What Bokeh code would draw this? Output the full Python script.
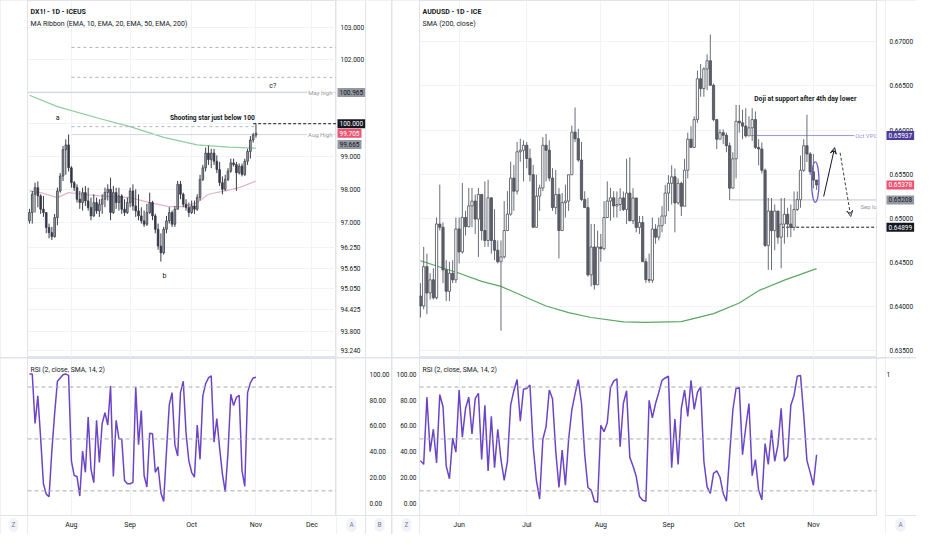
from bokeh.plotting import figure
from bokeh.models import (Range1d, LinearAxis, LogScale, FixedTicker, Grid, Label,
                          Span, Arrow, VeeHead, ColumnDataSource)
from bokeh.layouts import row, column
from bokeh.embed import file_html
from bokeh.resources import INLINE
from bokeh.core.properties import value

FONT = "Roboto"
TXT = "#131722"
SEP = "#e0e3eb"

# ---------------- DX1! daily (Jul - Nov) ----------------
dx_first_open = 97.05
dx_high = [97.41, 97.95, 98.20, 98.24, 97.85, 97.80, 97.26, 96.97, 96.87, 97.26,
           98.05, 98.49, 99.32, 99.52, 99.67, 98.70, 98.25, 98.15, 97.95, 98.05,
           98.10, 98.05, 97.75, 97.85, 97.75, 97.70, 97.85, 98.05, 98.15, 98.35,
           98.10, 98.05, 98.05, 97.85, 97.70, 97.75, 98.05, 98.15, 98.00, 97.85,
           97.46, 97.36, 97.56, 97.90, 97.65, 97.26, 96.97, 96.68, 96.87, 97.20,
           97.46, 97.36, 97.50, 98.25, 98.25, 97.90, 97.70, 97.60, 97.66, 97.66,
           97.85, 98.44, 98.74, 99.27, 99.32, 99.23, 99.23, 99.03, 98.83, 98.39,
           98.44, 98.64, 98.93, 98.93, 98.83, 98.78, 98.78, 98.93, 99.23, 99.62,
           99.72, 100.00]
dx_low = [96.97, 96.97, 97.30, 97.46, 97.26, 97.17, 96.68, 96.53, 96.48, 96.55,
          96.92, 97.90, 98.25, 98.44, 98.54, 98.05, 97.95, 97.60, 97.41, 97.36,
          97.50, 97.36, 97.07, 97.17, 97.26, 97.17, 97.26, 97.46, 97.66, 97.07,
          97.26, 97.41, 97.36, 97.26, 97.20, 97.26, 97.46, 97.36, 97.17, 97.07,
          96.97, 96.87, 96.90, 97.26, 97.07, 96.68, 96.19, 95.84, 96.05, 96.68,
          96.97, 96.87, 96.87, 97.40, 97.70, 97.46, 97.36, 97.17, 97.26, 97.26,
          97.35, 97.66, 98.25, 98.54, 98.74, 98.64, 98.74, 98.49, 98.10, 97.85,
          97.95, 98.25, 98.50, 98.69, 97.95, 98.45, 98.39, 98.40, 98.74, 98.93,
          99.42, 99.57]
dx_close = [97.30, 97.85, 98.05, 97.80, 97.40, 97.30, 96.85, 96.70, 96.58, 97.15,
            97.95, 98.40, 99.20, 99.35, 98.65, 98.20, 98.05, 97.70, 97.60, 97.90,
            97.65, 97.45, 97.20, 97.60, 97.35, 97.55, 97.70, 97.90, 98.00, 97.30,
            97.90, 97.60, 97.80, 97.40, 97.30, 97.60, 97.95, 97.50, 97.35, 97.20,
            97.05, 96.95, 97.30, 97.60, 97.20, 96.80, 96.30, 96.10, 96.80, 97.05,
            97.30, 96.95, 97.40, 98.15, 97.85, 97.55, 97.45, 97.30, 97.50, 97.40,
            97.75, 98.30, 98.65, 99.10, 98.90, 99.10, 98.85, 98.60, 98.20, 98.00,
            98.30, 98.55, 98.80, 98.75, 98.50, 98.70, 98.45, 98.85, 99.15, 99.50,
            99.65, 99.705]
dx_ema200_x = [0, 10, 25, 36, 48, 60, 71, 81]
dx_ema200 = [100.88, 100.53, 100.16, 99.91, 99.58, 99.35, 99.28, 99.25]
dx_ema50_x = [0, 4, 10, 14, 19, 25, 36, 43, 50, 55, 60, 64, 70, 75, 81]
dx_ema50 = [97.95, 97.90, 97.75, 97.90, 97.85, 97.80, 97.75, 97.60, 97.48, 97.48,
            97.60, 97.85, 97.95, 98.05, 98.25]
dx_rsi = [100, 100, 61.9, 83.2, 50.6, 15.5, 7.5, 5.5, 40.6, 69.4,
          94.5, 97.0, 99.5, 100, 99.0, 33.1, 21.8, 21.1, 6.0, 40.6,
          24.3, 66.9, 26.8, 16.3, 64.4, 31.8, 61.9, 70.2, 60.7, 90.7,
          21.1, 64.4, 50.1, 49.9, 18.0, 15.5, 15.5, 16.5, 90.0, 45.6,
          71.9, 21.8, 13.0, 54.4, 54.1, 24.3, 28.6, 8.5, 1.8, 40.6,
          76.2, 85.7, 45.6, 36.8, 85.7, 94.5, 54.4, 33.1, 24.3, 20.6,
          60.7, 34.3, 83.2, 92.7, 97.0, 98.7, 47.6, 65.7, 43.1, 23.1,
          9.3, 39.3, 84.5, 75.7, 82.0, 83.7, 25.6, 13.5, 85.7, 93.2,
          97.0, 97.5]
dx_month_idx = [15, 36, 58, 81, 101]
dx_month_lbl = ["Aug", "Sep", "Oct", "Nov", "Dec"]
dx_price_ticks = [103.0, 102.0, 101.0, 100.0, 99.0, 98.0, 97.0, 96.25, 95.65, 95.05,
                  94.425, 93.8, 93.24]
dx_levels_dashed = [102.38, 101.44]
dx_a_level = 99.91
dx_may_high = 100.965
dx_aug_high = 99.665
dx_round = 100.0

# ---------------- AUDUSD daily (May - Nov) ----------------
aud_first_open = 0.6412
aud_high = [.64266, .64675, .64600, .64377, .64433, .65009, .65381, .64954, .64526, .64508,
            .64526, .65009, .65009, .65400, .65084, .65344, .65344, .65270, .65344, .65270,
            .65418, .65437, .65121, .65102, .64749, .64749, .65195, .65307, .65641, .65604,
            .65864, .65901, .65883, .65864, .65790, .65604, .65493, .65381, .65920, .65957,
            .65883, .65567, .65548, .65344, .65288, .65381, .65493, .66050, .66255, .66013,
            .65864, .65307, .65232, .64935, .64935, .64861, .64823, .65195, .65418, .65344,
            .65307, .65304, .65341, .65304, .65674, .65692, .65341, .65082, .65026, .65026,
            .64545, .64601, .65008, .64934, .65008, .65137, .65378, .65489, .65600, .65563,
            .65452, .65415, .65674, .65970, .66044, .66155, .66673, .66747, .66710, .66858,
            .67080, .66525, .66118, .66007, .66007, .65970, .65859, .65748, .66284, .66284,
            .66229, .66247, .66155, .66247, .66210, .65896, .65859, .65563, .65230, .65230,
            .65156, .65082, .65230, .65230, .65119, .65156, .65304, .65304, .65711, .65896,
            .66173, .65748, .65729, .65396]
aud_low = [.63876, .63969, .63913, .64080, .64080, .64080, .64861, .64266, .64062, .64062,
           .64266, .64266, .64489, .64600, .64805, .64898, .64898, .64823, .64563, .64749,
           .64675, .64675, .64600, .64526, .64489, .63727, .64545, .64861, .65028, .65084,
           .65270, .65641, .65418, .65567, .65418, .64898, .64898, .65084, .65307, .65418,
           .65418, .65084, .65047, .64545, .64972, .65009, .65084, .65493, .65864, .65641,
           .65195, .65121, .64340, .64229, .64192, .64638, .64508, .64638, .65084, .64972,
           .65009, .65008, .65082, .65082, .64934, .64971, .64934, .64841, .64823, .64508,
           .64268, .64268, .64268, .64712, .64749, .64841, .64934, .65082, .65156, .64841,
           .65156, .65026, .65137, .65452, .65803, .65803, .66081, .66377, .66377, .66451,
           .66506, .66099, .65785, .65896, .65840, .65748, .65208, .65341, .65452, .65970,
           .65896, .65914, .65933, .65877, .65785, .65600, .65507, .64675, .64416, .64416,
           .64638, .64712, .64434, .64712, .64786, .64786, .64860, .65082, .65119, .65526,
           .65637, .65489, .65341, .65322]
aud_close = [.64006, .64452, .64154, .64303, .64099, .64935, .64898, .64415, .64173, .64377,
             .64303, .64879, .64619, .65009, .64905, .65140, .65195, .64991, .65270, .64861,
             .64749, .65232, .64749, .64638, .64508, .64563, .64861, .65047, .65455, .65307,
             .65753, .65771, .65827, .65678, .65493, .64898, .65251, .65344, .65827, .65771,
             .65455, .65121, .65270, .64861, .65177, .65195, .65493, .65976, .65901, .65660,
             .65214, .65121, .64359, .64675, .64247, .64675, .64656, .65009, .65195, .65232,
             .65140, .65156, .65230, .65100, .65285, .64971, .65230, .64897, .64952, .64508,
             .64305, .64298, .64878, .64786, .64915, .65026, .65285, .65396, .65470, .65174,
             .65396, .65137, .65544, .65896, .65803, .66118, .66580, .66469, .66691, .66784,
             .66506, .66118, .65896, .65970, .65940, .65822, .65341, .65674, .66099, .66081,
             .66044, .65933, .66025, .66118, .65803, .65785, .65544, .64693, .65082, .64860,
             .65082, .64786, .64934, .65045, .64934, .64897, .65100, .65211, .65544, .65822,
             .65729, .65526, .65433, .65378]
aud_sma_x = [0, 12, 19, 25, 32, 39, 46, 53, 63, 70, 81, 91, 99, 105, 113, 123]
aud_sma = [.64519, .64377, .64285, .64229, .64117, .64006, .63931, .63876, .63827, .63820,
           .63830, .63920, .64040, .64180, .64300, .64430]
aud_rsi = [33.3, 30.4, 82.2, 40.2, 57.5, 31.6, 84.2, 74.8, 29.1, 19.3,
           50.6, 39.8, 87.7, 51.4, 73.6, 82.2, 53.8, 81.0, 85.2, 34.1,
           76.0, 25.4, 67.4, 27.9, 57.5, 34.1, 18.0, 32.8, 76.0, 87.2,
           95.8, 63.7, 88.4, 88.9, 91.6, 44.0, 18.0, 3.7, 49.6, 59.5,
           87.7, 81.0, 40.7, 12.6, 41.5, 14.3, 49.6, 72.3, 84.7, 95.8,
           77.3, 37.8, 12.6, 10.6, 2.0, 1.2, 60.5, 55.6, 62.5, 89.6,
           94.6, 96.3, 44.0, 77.3, 87.2, 35.8, 29.1, 21.0, 5.7, 2.7,
           2.0, 79.8, 66.2, 77.3, 85.9, 95.1, 97.0, 98.3, 27.9, 65.4,
           30.4, 73.6, 87.7, 67.4, 95.1, 72.8, 85.9, 90.1, 32.8, 13.1,
           8.1, 23.5, 25.4, 20.5, 8.1, 2.0, 37.8, 72.3, 88.9, 89.6,
           37.8, 58.8, 77.3, 21.7, 34.1, 10.6, 3.2, 46.4, 30.4, 57.0,
           32.8, 45.2, 73.6, 32.8, 36.5, 76.0, 83.5, 98.3, 99.0, 68.6,
           33.3, 24.2, 14.3, 37.8]
aud_month_idx = [12, 33, 56, 77, 99, 122]
aud_month_lbl = ["Jun", "Jul", "Aug", "Sep", "Oct", "Nov"]
aud_price_ticks = [0.670, 0.665, 0.660, 0.655, 0.650, 0.645, 0.640, 0.635]
aud_oct_vpoc = 0.65937
aud_sep_low = 0.65208
aud_support = 0.64899
aud_last = 0.65378

rsi_ticks = [100, 80, 60, 40, 20, 0]
rsi_tick_lbl = ["100.00", "80.00", "60.00", "40.00", "20.00", "0.00"]
rsi_bands = [90, 50, 10]

# ---------------- layout sizes (pixels) ----------------
MH, RH, AXH = 357, 176, 19          # main pane, rsi pane (+axis row) heights
LZ, LFW, LP = 27, 309, 55           # left panel: gutter, frame, price column
RZ, RFW, RP = 27, 466, 31           # right panel: gutter, frame, price column
RFW_RSI = 457                       # right rsi frame is slightly narrower

dx_xr = Range1d(-0.7, 109.8)
aud_xr = Range1d(-0.3, 141.6)
rsi_yr = Range1d(-9, 112)
side_rsi_yr = Range1d(-9 - 121 * AXH / (RH - AXH), 112)


def fig(w, h, xr, yr, bottom=0, right=0, outline=SEP):
    return figure(width=w, height=h, x_range=xr, y_range=yr, x_axis_type=None,
                  y_axis_type=None, output_backend="svg", toolbar_location=None,
                  min_border_left=0, min_border_right=right, min_border_top=0,
                  min_border_bottom=bottom, background_fill_color="white",
                  border_fill_color="white", outline_line_color=outline)


def grids(p, xticks, yticks=None):
    p.add_layout(Grid(dimension=0, ticker=FixedTicker(ticks=xticks), grid_line_color="#f0f3fa"))
    if yticks is not None:
        p.add_layout(Grid(dimension=1, ticker=FixedTicker(ticks=yticks), grid_line_color="#f0f3fa"))


def month_axis(p, idx, lbl):
    ax = LinearAxis(ticker=FixedTicker(ticks=idx), major_label_overrides=dict(zip(idx, lbl)))
    ax.axis_line_color = SEP
    ax.major_tick_line_color = None
    ax.minor_tick_line_color = None
    ax.major_tick_out = 0
    ax.major_tick_in = 0
    ax.major_label_standoff = 5
    ax.major_label_text_font = FONT
    ax.major_label_text_font_size = "7px"
    ax.major_label_text_color = TXT
    p.add_layout(ax, "below")


def candles(p, first_open, highs, lows, closes, up_fill, dn_fill, line, wick, width):
    opens = [first_open] + closes[:-1]
    xs = list(range(len(closes)))
    tops = [max(o, c) for o, c in zip(opens, closes)]
    bots = [min(o, c) for o, c in zip(opens, closes)]
    hi = [max(h, t) for h, t in zip(highs, tops)]
    lo = [min(l, b) for l, b in zip(lows, bots)]
    fills = [up_fill if c >= o else dn_fill for o, c in zip(opens, closes)]
    src = ColumnDataSource(dict(x=xs, hi=hi, lo=lo, top=tops, bot=bots, fill=fills))
    p.segment(x0="x", y0="hi", x1="x", y1="lo", source=src, line_color=wick, line_width=1)
    p.vbar(x="x", width=width, top="top", bottom="bot", fill_color="fill",
           line_color=line, line_width=0.8, source=src)


def scale_labels(p, x, ys, labels, align="left"):
    p.text(x=[x] * len(ys), y=ys, text=labels, text_font=value(FONT), text_font_size="6.5px",
           text_color=TXT, text_align=align, text_baseline="middle")


def tag(p, y, text, bg, fg, y_offset=0):
    p.add_layout(Label(x=1, y=y, x_units="screen", y_units="data", text=text,
                       text_font=FONT, text_font_size="6.5px", text_color=fg,
                       text_baseline="middle", text_align="left", background_fill_color=bg,
                       padding=2, y_offset=y_offset))


def line_note(p, fw, y, text, color, y_offset=0):
    p.add_layout(Label(x=fw - 3, y=y, x_units="screen", y_units="data", text=text,
                       text_font=FONT, text_font_size="6px", text_color=color,
                       text_baseline="middle", text_align="right",
                       background_fill_color="white", padding=1, y_offset=y_offset))


def header(p, fh, l1, l2):
    p.add_layout(Label(x=3, y=fh - 11, x_units="screen", y_units="screen", text=l1,
                       text_font=FONT, text_font_size="7px", text_font_style="bold",
                       text_color=TXT, text_baseline="middle"))
    p.add_layout(Label(x=3, y=fh - 23, x_units="screen", y_units="screen", text=l2,
                       text_font=FONT, text_font_size="7px", text_color=TXT,
                       text_baseline="middle"))


def rsi_title(p, fh):
    p.add_layout(Label(x=3, y=fh - 11, x_units="screen", y_units="screen",
                       text="RSI (2, close, SMA, 14, 2)", text_font=FONT,
                       text_font_size="6.8px", text_color=TXT, text_baseline="middle"))


def icon(p, x, txt):
    p.add_layout(Label(x=x, y=AXH / 2, x_units="screen", y_units="screen", text=txt,
                       text_font=FONT, text_font_size="6.5px", text_color="#787b86",
                       text_align="center", text_baseline="middle",
                       background_fill_color="#f0f3fa", border_radius=6, padding=3))


def bands(p):
    for b in rsi_bands:
        p.add_layout(Span(location=b, dimension="width", line_color="#a8abb3", line_width=1,
                          line_dash="4 3"))


# ================= LEFT PANEL =================
lzm = fig(LZ, MH, Range1d(0, 1), Range1d(0, 1), outline=None)
lzr = fig(LZ, RH, Range1d(0, 1), side_rsi_yr, outline=None)
lzr.add_layout(Span(location=-9, dimension="width", line_color=SEP, line_width=1))
icon(lzr, 13, "Z")

lm = fig(LFW, MH, dx_xr, Range1d(93.05, 103.87))
lm.y_scale = LogScale()
grids(lm, dx_month_idx, dx_price_ticks)
lm.line(dx_ema200_x, dx_ema200, line_color="#8fcca0", line_width=1.2)
lm.line(dx_ema50_x, dx_ema50, line_color="#e3b5cb", line_width=1.2)
lm.add_layout(Span(location=dx_may_high, dimension="width", line_color="#d1d4dc", line_width=1))
xe = dx_xr.end
lm.segment(x0=[15, 15], y0=dx_levels_dashed, x1=[xe, xe], y1=dx_levels_dashed,
           line_color="#b2b5be", line_width=1, line_dash="3 3")
lm.segment(x0=[15], y0=[dx_a_level], x1=[81], y1=[dx_a_level],
           line_color="#b2b5be", line_width=1, line_dash="3 3")
lm.segment(x0=[15], y0=[dx_aug_high], x1=[xe], y1=[dx_aug_high],
           line_color="#d1d4dc", line_width=1)
lm.segment(x0=[80], y0=[dx_round], x1=[xe], y1=[dx_round],
           line_color=TXT, line_width=1, line_dash="3 2")
candles(lm, dx_first_open, dx_high, dx_low, dx_close, "#a3a6af", "#2e3350", "#3b3d46",
        "#3b3d46", 0.6)
lm.text(x=[10.1, 48.3, 87], y=[100.18, 95.42, 101.17], text=["a", "b", "c?"],
        text_font=value(FONT), text_font_size="7px", text_color=TXT,
        text_align="center", text_baseline="middle")
lm.text(x=[65.4], y=[100.18], text=["Shooting star just below 100"], text_font=value(FONT),
        text_font_size="6.6px", text_font_style="bold", text_color=TXT,
        text_align="center", text_baseline="middle")
line_note(lm, LFW, dx_may_high, "May high", "#9598a1")
line_note(lm, LFW, dx_aug_high, "Aug High", "#9598a1")
header(lm, MH, "DX1! - 1D - ICEUS", "MA Ribbon (EMA, 10, EMA, 20, EMA, 50, EMA, 200)")

lr = fig(LFW, RH, dx_xr, rsi_yr, bottom=AXH)
grids(lr, dx_month_idx)
month_axis(lr, dx_month_idx, dx_month_lbl)
bands(lr)
lr.line(list(range(len(dx_rsi))), dx_rsi, line_color="#6b45c6", line_width=1.5)
rsi_title(lr, RH - AXH)

lp = fig(LP, MH, Range1d(0, LP), lm.y_range, outline=None)
lp.y_scale = LogScale()
lp.add_layout(Span(location=29, dimension="height", line_color=SEP, line_width=1))
scale_labels(lp, 4, dx_price_ticks, ["%.3f" % t for t in dx_price_ticks])
tag(lp, dx_may_high, "100.965", "#9598a1", TXT)
tag(lp, dx_round, "100.000", TXT, "white")
tag(lp, dx_close[-1], "99.705", "#ec5474", "white")
tag(lp, dx_aug_high, "99.665", "#9598a1", TXT, y_offset=-10)

lrp = fig(LP, RH, Range1d(0, LP), side_rsi_yr, outline=None)
lrp.add_layout(Span(location=29, dimension="height", line_color=SEP, line_width=1))
lrp.add_layout(Span(location=-9, dimension="width", line_color=SEP, line_width=1))
scale_labels(lrp, 33, rsi_ticks, rsi_tick_lbl)
icon(lrp, 15, "A")
icon(lrp, 43, "B")

# ================= RIGHT PANEL =================
rzm = fig(RZ, MH, Range1d(0, 1), Range1d(0, 1), outline=None)
rzr = fig(RZ, RH, Range1d(0, RZ), side_rsi_yr, outline=None)
rzr.add_layout(Span(location=-9, dimension="width", line_color=SEP, line_width=1))
scale_labels(rzr, 24, rsi_ticks, rsi_tick_lbl, align="right")
icon(rzr, 14, "Z")

rm = fig(RFW, MH, aud_xr, Range1d(0.63423, 0.67467))
grids(rm, aud_month_idx, aud_price_ticks)
rm.line(aud_sma_x, aud_sma, line_color="#5aa862", line_width=1.2)
xe2 = aud_xr.end
rm.segment(x0=[102.5], y0=[aud_oct_vpoc], x1=[xe2], y1=[aud_oct_vpoc],
           line_color="#9e90e0", line_width=1)
rm.segment(x0=[96], y0=[aud_sep_low], x1=[xe2], y1=[aud_sep_low],
           line_color="#c3c5cc", line_width=1)
rm.segment(x0=[112], y0=[aud_support], x1=[xe2], y1=[aud_support],
           line_color=TXT, line_width=1, line_dash="3 2")
candles(rm, aud_first_open, aud_high, aud_low, aud_close, "#ffffff", "#5d606b", "#4a4c55",
        "#6a6d78", 0.7)
rm.ellipse(x=[122.6], y=[0.6541], width=2.3, height=0.0046, fill_color=None,
           line_color="#6a5acd", line_width=1.3)
rm.add_layout(Arrow(end=VeeHead(size=6, line_color=TXT, line_width=1, fill_color=None),
                    x_start=125.2, y_start=0.65247, x_end=128.6, y_end=0.65800,
                    line_color=TXT, line_width=1))
rm.add_layout(Arrow(end=VeeHead(size=6, line_color="#3b3d46", line_width=1, fill_color=None),
                    x_start=130.3, y_start=0.65742, x_end=133.6, y_end=0.65020,
                    line_color="#3b3d46", line_width=1, line_dash="3 2"))
rm.text(x=[119.5], y=[0.66346], text=["Doji at support after 4th day lower"],
        text_font=value(FONT), text_font_size="6.7px", text_font_style="bold",
        text_color=TXT, text_align="center", text_baseline="middle")
line_note(rm, RFW, aud_oct_vpoc, "Oct VPOC", "#9e90e0")
line_note(rm, RFW, aud_sep_low, "Sep low", "#9598a1", y_offset=-7)
header(rm, MH, "AUDUSD - 1D - ICE", "SMA (200, close)")

rr = fig(RFW, RH, aud_xr, rsi_yr, bottom=AXH, right=RFW - RFW_RSI)
grids(rr, aud_month_idx)
month_axis(rr, aud_month_idx, aud_month_lbl)
bands(rr)
rr.line(list(range(len(aud_rsi))), aud_rsi, line_color="#6b45c6", line_width=1.5)
rsi_title(rr, RH - AXH)

rp = fig(RP, MH, Range1d(0, RP), rm.y_range, outline=None)
scale_labels(rp, 4, aud_price_ticks, ["%.5f" % t for t in aud_price_ticks])
tag(rp, aud_oct_vpoc, "0.65937", "#4c3c9c", "white")
tag(rp, aud_last, "0.65378", "#ec5474", "white")
tag(rp, aud_sep_low, "0.65208", "#9598a1", TXT)
tag(rp, aud_support, "0.64899", TXT, "white")

rrp = fig(RP, RH, Range1d(0, RP), side_rsi_yr, outline=None)
rrp.add_layout(Span(location=-9, dimension="width", line_color=SEP, line_width=1))
scale_labels(rrp, 1, [100], ["1"])
icon(rrp, 15, "A")

bg = {"background-color": SEP}
left = row(column(lzm, lzr, spacing=1, styles=bg), column(lm, lr, spacing=1, styles=bg),
           column(lp, lrp, spacing=1, styles=bg), spacing=0)
right = row(column(rzm, rzr, spacing=1, styles=bg), column(rm, rr, spacing=1, styles=bg),
            column(rp, rrp, spacing=1, styles=bg), spacing=0)
layout = row(left, right, spacing=1, styles=bg)

open("out.html", "w").write(file_html(layout, INLINE))
